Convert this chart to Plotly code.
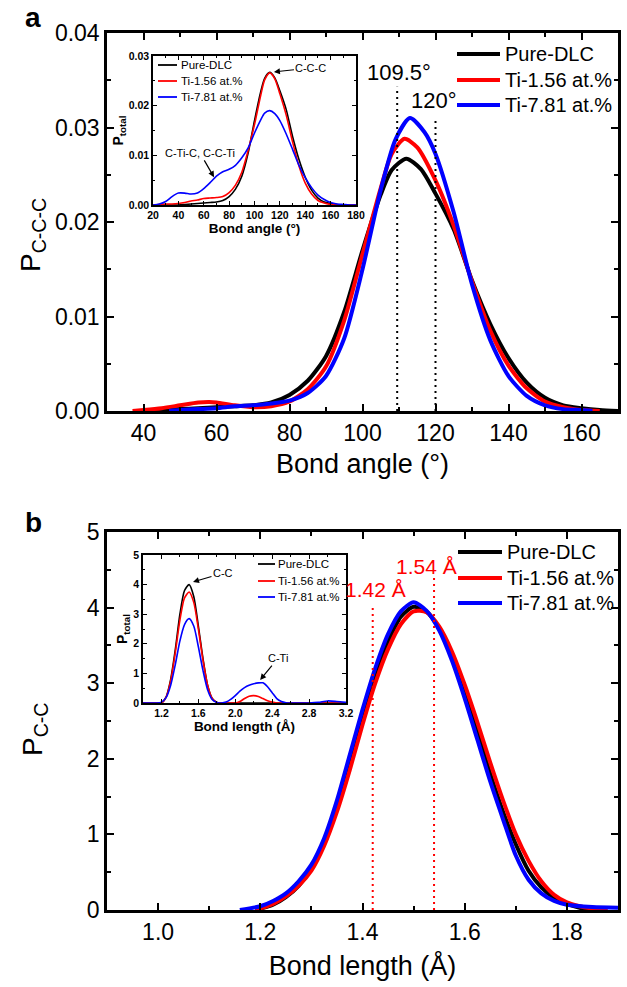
import plotly.graph_objects as go

FONT = "Liberation Sans, Arial, sans-serif"
W, H = 627, 987

def px(x):
    return x / W

def py(y):
    return 1 - y / H

series = ["Pure-DLC", "Ti-1.56 at.%", "Ti-7.81 at.%"]
colors = ["#000000", "#ff0000", "#0000ff"]

# ---------------- Panel a: main (C-C-C bond angle distribution) ----------------
a_angle_pure = [40, 45, 50, 55, 60, 65, 70, 75, 80, 85, 90, 95, 100, 105, 108, 112, 116, 120, 125, 130, 135, 140, 145, 150, 155, 160, 165, 170]
a_p_pure = [0.0000, 0.0001, 0.0002, 0.0003, 0.0004, 0.0005, 0.0006, 0.0009, 0.0017, 0.0032, 0.0058, 0.0105, 0.0170, 0.0229, 0.0255, 0.0267, 0.0256, 0.0230, 0.0192, 0.0138, 0.0092, 0.0056, 0.0030, 0.0014, 0.0006, 0.0003, 0.0001, 0.0000]

a_angle_156 = [37, 40, 45, 50, 55, 58, 60, 65, 70, 75, 80, 85, 90, 95, 100, 105, 108, 111.5, 115, 120, 125, 130, 135, 140, 145, 150, 155, 160, 165]
a_p_156 = [0.0000, 0.0001, 0.0003, 0.0006, 0.0009, 0.00095, 0.0009, 0.0006, 0.0004, 0.0005, 0.0010, 0.0023, 0.0047, 0.0096, 0.0166, 0.0236, 0.0272, 0.0288, 0.0279, 0.0244, 0.0196, 0.0137, 0.0085, 0.0048, 0.0024, 0.0010, 0.0004, 0.0001, 0.0000]

a_angle_781 = [47, 50, 55, 60, 65, 70, 75, 80, 85, 90, 95, 100, 105, 109, 113, 117, 120, 125, 130, 135, 140, 145, 150, 155, 160, 163]
a_p_781 = [0.0000, 0.0001, 0.0002, 0.0003, 0.0005, 0.0006, 0.0008, 0.0011, 0.0019, 0.0037, 0.0077, 0.0150, 0.0234, 0.0287, 0.0310, 0.0295, 0.0272, 0.0210, 0.0134, 0.0075, 0.0037, 0.0016, 0.0006, 0.0002, 0.0001, 0.0000]

a_ref_angles = [109.5, 120]
a_ref_labels = ["109.5°", "120°"]

# ---------------- Panel a: inset (total bond angle distribution) ----------------
ia_angle = [20, 25, 30, 35, 40, 45, 50, 55, 60, 65, 70, 75, 80, 85, 90, 95, 100, 105, 108, 112, 116, 120, 125, 130, 135, 140, 145, 150, 155, 160, 165, 170, 175, 180]
ia_pure = [0, 0, 0, 0, 0, 0.0001, 0.0002, 0.0003, 0.0004, 0.0005, 0.0006, 0.0009, 0.0017, 0.0032, 0.0058, 0.0105, 0.0170, 0.0229, 0.0255, 0.0267, 0.0256, 0.0230, 0.0192, 0.0138, 0.0092, 0.0056, 0.0030, 0.0014, 0.0006, 0.0003, 0.0001, 0, 0, 0]
ia_156 = [0, 0.0001, 0.0002, 0.0002, 0.0003, 0.0005, 0.0008, 0.0010, 0.0013, 0.0014, 0.0015, 0.0017, 0.0025, 0.0040, 0.0066, 0.0110, 0.0162, 0.0222, 0.0252, 0.0266, 0.0254, 0.0224, 0.0181, 0.0127, 0.0079, 0.0044, 0.0022, 0.0009, 0.0004, 0.0001, 0, 0, 0, 0]
ia_781 = [0, 0.0002, 0.0007, 0.0017, 0.0024, 0.0024, 0.0022, 0.0024, 0.0033, 0.0045, 0.0058, 0.0067, 0.0072, 0.0080, 0.0095, 0.0115, 0.0145, 0.0172, 0.0185, 0.0190, 0.0184, 0.0170, 0.0143, 0.0112, 0.0080, 0.0055, 0.0035, 0.0020, 0.0011, 0.0005, 0.0002, 0.0001, 0, 0]

# ---------------- Panel b: main (C-C bond length distribution) ----------------
b_len_pure = [1.19, 1.225, 1.25, 1.275, 1.30, 1.325, 1.35, 1.375, 1.40, 1.425, 1.45, 1.475, 1.50, 1.525, 1.55, 1.575, 1.60, 1.625, 1.65, 1.675, 1.70, 1.725, 1.75, 1.775, 1.80, 1.825, 1.85]
b_p_pure = [0.00, 0.07, 0.17, 0.32, 0.55, 0.90, 1.38, 1.95, 2.55, 3.10, 3.55, 3.88, 4.01, 3.95, 3.72, 3.35, 2.88, 2.35, 1.80, 1.30, 0.87, 0.52, 0.30, 0.16, 0.08, 0.03, 0.00]

b_len_156 = [1.19, 1.225, 1.25, 1.275, 1.30, 1.325, 1.35, 1.375, 1.40, 1.425, 1.45, 1.475, 1.50, 1.525, 1.55, 1.575, 1.60, 1.625, 1.65, 1.675, 1.70, 1.725, 1.75, 1.775, 1.80, 1.825, 1.85, 1.88]
b_p_156 = [0.00, 0.08, 0.18, 0.32, 0.52, 0.85, 1.30, 1.85, 2.45, 3.00, 3.45, 3.78, 3.95, 3.94, 3.75, 3.42, 2.98, 2.48, 1.95, 1.45, 1.00, 0.65, 0.38, 0.20, 0.10, 0.05, 0.02, 0.00]

b_len_781 = [1.16, 1.20, 1.225, 1.25, 1.275, 1.30, 1.325, 1.35, 1.375, 1.40, 1.425, 1.45, 1.475, 1.50, 1.525, 1.55, 1.575, 1.60, 1.625, 1.65, 1.675, 1.70, 1.725, 1.75, 1.775, 1.80, 1.85, 1.90]
b_p_781 = [0.00, 0.05, 0.12, 0.22, 0.38, 0.60, 0.95, 1.45, 2.05, 2.65, 3.20, 3.65, 3.95, 4.07, 3.96, 3.70, 3.30, 2.80, 2.25, 1.70, 1.20, 0.72, 0.40, 0.22, 0.12, 0.07, 0.04, 0.03]

b_ref_lengths = [1.42, 1.54]
b_ref_labels = ["1.42 Å", "1.54 Å"]

# ---------------- Panel b: inset (total bond length distribution) ----------------
ib_len = [1.0, 1.15, 1.2, 1.25, 1.3, 1.35, 1.4, 1.45, 1.5, 1.55, 1.6, 1.65, 1.7, 1.75, 1.8, 1.85, 1.9, 1.95, 2.0, 2.05, 2.1, 2.15, 2.2, 2.25, 2.3, 2.35, 2.4, 2.45, 2.5, 2.55, 2.6, 2.7, 2.8, 2.9, 3.0, 3.1, 3.2]
ib_pure = [0, 0, 0, 0.20, 0.80, 1.80, 3.00, 3.80, 4.00, 3.60, 2.60, 1.50, 0.60, 0.15, 0.02, 0, 0, 0, 0, 0, 0, 0, 0, 0, 0, 0, 0, 0, 0, 0, 0, 0, 0, 0, 0, 0, 0]
ib_156 = [0, 0, 0, 0.20, 0.75, 1.70, 2.80, 3.55, 3.75, 3.40, 2.50, 1.45, 0.60, 0.15, 0.02, 0, 0, 0, 0, 0.05, 0.15, 0.23, 0.25, 0.22, 0.15, 0.08, 0.03, 0, 0, 0, 0, 0, 0, 0, 0, 0, 0]
ib_781 = [0, 0, 0.03, 0.18, 0.60, 1.30, 2.10, 2.65, 2.85, 2.60, 1.90, 1.10, 0.45, 0.12, 0.02, 0, 0.03, 0.12, 0.25, 0.40, 0.52, 0.60, 0.65, 0.68, 0.68, 0.55, 0.35, 0.15, 0.05, 0.01, 0, 0, 0, 0.02, 0.07, 0.05, 0.02]

fig = go.Figure()

def add_set(xs_list, ys_list, xa, ya, width):
    for name, xs, ys, c in zip(series, xs_list, ys_list, colors):
        fig.add_trace(go.Scatter(
            x=xs, y=ys, mode="lines", name=name, showlegend=False,
            line=dict(color=c, width=width, shape="spline", smoothing=0.7),
            xaxis=xa, yaxis=ya, hoverinfo="skip"))

add_set([a_angle_pure, a_angle_156, a_angle_781], [a_p_pure, a_p_156, a_p_781], "x", "y", 4)
add_set([ia_angle] * 3, [ia_pure, ia_156, ia_781], "x3", "y3", 1.6)
add_set([b_len_pure, b_len_156, b_len_781], [b_p_pure, b_p_156, b_p_781], "x2", "y2", 4)
add_set([ib_len] * 3, [ib_pure, ib_156, ib_781], "x4", "y4", 1.6)

main_font = dict(family=FONT, size=23, color="black")
inset_font = dict(family=FONT, size=10.5, color="black", weight="bold")

def main_axis(**kw):
    d = dict(showline=True, linewidth=2.5, linecolor="black", mirror="ticks",
             ticks="inside", ticklen=7, tickwidth=2, tickcolor="black",
             showgrid=False, zeroline=False, tickfont=main_font, automargin=False,
             minor=dict(ticks="inside", ticklen=4, tickwidth=2, tickcolor="black", showgrid=False))
    d.update(kw)
    return d

def inset_axis(**kw):
    d = dict(showline=True, linewidth=1.5, linecolor="black", mirror="ticks",
             ticks="inside", ticklen=4, tickwidth=1.2, tickcolor="black",
             showgrid=False, zeroline=False, tickfont=inset_font, automargin=False,
             minor=dict(ticks="inside", ticklen=2.5, tickwidth=1.2, tickcolor="black", showgrid=False))
    d.update(kw)
    return d

xdom = [px(107), px(618)]
fig.update_layout(
    width=W, height=H, margin=dict(l=0, r=0, t=0, b=0, autoexpand=False),
    paper_bgcolor="white", plot_bgcolor="white", showlegend=False,
    font=dict(family=FONT, color="black"),
    xaxis=main_axis(domain=xdom, range=[30, 170], dtick=20, tick0=0, anchor="y",
                    minor_dtick=10,
                    title=dict(text="Bond angle (°)", font=dict(family=FONT, size=27), standoff=9)),
    yaxis=main_axis(domain=[py(411), py(33)], range=[0, 0.04], dtick=0.01, tickformat=".2f",
                    anchor="x", minor_dtick=0.005),
    xaxis2=main_axis(domain=xdom, range=[0.9, 1.9], dtick=0.2, tick0=0, tickformat=".1f", anchor="y2",
                     minor_dtick=0.1,
                     title=dict(text="Bond length (Å)", font=dict(family=FONT, size=27), standoff=12)),
    yaxis2=main_axis(domain=[py(910), py(532)], range=[0, 5], dtick=1, anchor="x2", minor_dtick=0.5),
    xaxis3=inset_axis(domain=[px(153), px(356)], range=[20, 180], dtick=20, tick0=0, anchor="y3",
                      minor_dtick=10,
                      title=dict(text="Bond angle (°)", font=dict(family=FONT, size=13.5, weight="bold"), standoff=2)),
    yaxis3=inset_axis(domain=[py(205), py(56)], range=[0, 0.03], dtick=0.01, tickformat=".2f",
                      anchor="x3", minor_dtick=0.005,
                      title=dict(text="P<sub>total</sub>", font=dict(family=FONT, size=14, weight="bold"), standoff=2)),
    xaxis4=inset_axis(domain=[px(143), px(346)], range=[1.0, 3.2], dtick=0.4, tick0=0, tickformat=".1f",
                      anchor="y4", minor_dtick=0.2,
                      title=dict(text="Bond length (Å)", font=dict(family=FONT, size=13.5, weight="bold"), standoff=2)),
    yaxis4=inset_axis(domain=[py(703), py(555)], range=[0, 5], dtick=1, anchor="x4", minor_dtick=0.5,
                      title=dict(text="P<sub>total</sub>", font=dict(family=FONT, size=14, weight="bold"), standoff=2)),
)

shapes = []
ann = []

# reference dotted lines
a_ref_tops = [0.0343, 0.0310]
for xv, top in zip(a_ref_angles, a_ref_tops):
    shapes.append(dict(type="line", xref="x", yref="y", x0=xv, x1=xv, y0=0, y1=top,
                       line=dict(color="black", width=2, dash="2px,4px")))
b_ref_tops = [4.0, 4.43]
for xv, top in zip(b_ref_lengths, b_ref_tops):
    shapes.append(dict(type="line", xref="x2", yref="y2", x0=xv, x1=xv, y0=0, y1=top,
                       line=dict(color="red", width=2, dash="2px,4px")))

# legends (key line + label)
def add_legend(rows_y, x0, x1, xt, lw, fsize):
    for name, c, yy in zip(series, colors, rows_y):
        shapes.append(dict(type="line", xref="paper", yref="paper", x0=px(x0), x1=px(x1),
                           y0=py(yy), y1=py(yy), line=dict(color=c, width=lw)))
        ann.append(dict(text=name, x=px(xt), y=py(yy), xref="paper", yref="paper", xanchor="left",
                        yanchor="middle", showarrow=False, font=dict(family=FONT, size=fsize, color="black")))

add_legend([54, 80, 105], 457, 500, 503, 4, 20)
add_legend([552, 578, 603], 458, 502, 505, 4, 20)
add_legend([65, 81, 97], 158, 177, 179, 1.8, 11.5)
add_legend([564, 581, 597], 258, 275, 276, 1.8, 11.5)

fig.update_layout(shapes=shapes)

# panel letters
ann.append(dict(text="<b>a</b>", x=px(33), y=py(18), xref="paper", yref="paper", showarrow=False,
                xanchor="center", yanchor="middle", font=dict(family=FONT, size=28, color="black")))
ann.append(dict(text="<b>b</b>", x=px(33), y=py(522), xref="paper", yref="paper", showarrow=False,
                xanchor="center", yanchor="middle", font=dict(family=FONT, size=28, color="black")))
# y titles of main panels
ann.append(dict(text="P<sub>C-C-C</sub>", x=px(32), y=py(235), xref="paper", yref="paper", showarrow=False,
                xanchor="center", yanchor="middle",
                textangle=-90, font=dict(family=FONT, size=28, color="black")))
ann.append(dict(text="P<sub>C-C</sub>", x=px(34), y=py(729), xref="paper", yref="paper", showarrow=False,
                xanchor="center", yanchor="middle",
                textangle=-90, font=dict(family=FONT, size=28, color="black")))
# reference line labels
a_label_y = [0.0358, 0.0329]
a_label_x = [110.0, 119.5]
for t, xv, yv in zip(a_ref_labels, a_label_x, a_label_y):
    ann.append(dict(text=t, x=xv, y=yv, xref="x", yref="y", showarrow=False,
                    font=dict(family=FONT, size=22, color="black")))
b_label_y = [4.24, 4.55]
b_label_x = [1.425, 1.525]
for t, xv, yv in zip(b_ref_labels, b_label_x, b_label_y):
    ann.append(dict(text=t, x=xv, y=yv, xref="x2", yref="y2", showarrow=False,
                    font=dict(family=FONT, size=21, color="red")))

# inset annotations with arrows (text at arrow tail)
arrow = dict(showarrow=True, arrowhead=2, arrowsize=1, arrowwidth=1.2, arrowcolor="black")
ann.append(dict(text="C-C-C", x=115.3, y=0.0268, ax=144.5, ay=0.0276, xref="x3", yref="y3",
                axref="x3", ayref="y3", font=dict(family=FONT, size=11, color="black"), **arrow))
ann.append(dict(text="C-Ti-C, C-C-Ti", x=68.1, y=0.0056, ax=57, ay=0.0105, xref="x3", yref="y3",
                axref="x3", ayref="y3", font=dict(family=FONT, size=11, color="black"), **arrow))
ann.append(dict(text="C-C", x=1.542, y=4.09, ax=1.867, ay=4.39, xref="x4", yref="y4",
                axref="x4", ayref="y4", font=dict(family=FONT, size=11, color="black"), **arrow))
ann.append(dict(text="C-Ti", x=2.27, y=0.78, ax=2.463, ay=1.52, xref="x4", yref="y4",
                axref="x4", ayref="y4", font=dict(family=FONT, size=11, color="black"), **arrow))
fig.update_layout(annotations=ann)

fig.write_html("out.html", config={"displayModeBar": False},
               post_script="document.body.style.margin='0';")
